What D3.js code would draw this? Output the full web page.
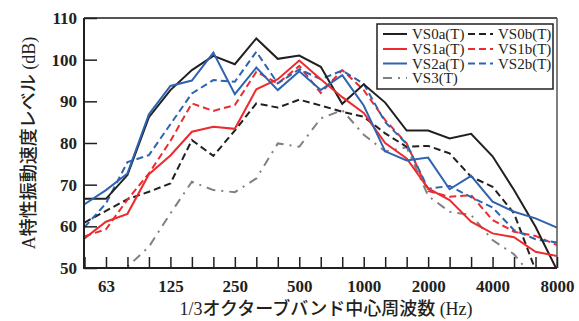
<!DOCTYPE html>
<html><head><meta charset="utf-8">
<script src="https://cdn.jsdelivr.net/npm/d3@7/dist/d3.min.js"></script>
<style>
html,body{margin:0;padding:0;background:#fff;}
svg{display:block;}
</style></head>
<body>
<svg id="chart" width="579" height="321"></svg>
<script>
const bands = [50,63,80,100,125,160,200,250,315,400,500,630,800,1000,1250,1600,2000,2500,3150,4000,5000,6300,8000];
const xTickLabels = [63,125,250,500,1000,2000,4000,8000];
const yTicks = [50,60,70,80,90,100,110];

const VS0a = [66.6,66.6,72.3,86.2,92.7,97.5,100.9,98.9,105.1,100.2,101.0,98.3,89.4,94.1,89.7,83.0,83.0,81.1,82.2,76.8,68.7,59.9,49.5];
const VS0b = [60.9,63.7,66.5,68.3,70.3,80.7,76.9,83.0,89.5,88.5,90.4,89.0,87.5,86.3,82.3,79.1,79.3,77.5,71.9,69.5,63.1,49.5,44];
const VS1a = [57.1,61.1,63.0,72.5,77.0,82.7,83.9,83.4,92.9,95.3,99.8,95.3,91.0,87.2,80.0,76.3,69.1,66.3,61.1,58.3,57.4,53.9,52.9];
const VS1b = [57.6,59.3,66.4,72.7,80.5,89.5,87.7,89.1,97.1,94.3,98.5,92.0,97.5,92.7,85.5,79.9,68.5,67.1,67.5,61.5,58.7,57.7,55.5];
const VS2a = [65.3,68.7,72.7,86.9,93.7,95.0,101.7,91.7,98.1,92.7,97.2,92.7,96.3,89.0,78.0,75.8,76.5,68.9,72.1,65.9,63.5,61.9,59.7];
const VS2b = [59.8,65.5,75.4,77.1,84.5,91.9,95.1,94.7,101.9,94.3,97.7,95.3,97.4,94.2,85.0,79.8,69.0,69.7,67.0,64.5,59.1,56.9,56.1];
const VS3  = [40,45,50.3,55.1,63.1,70.7,68.7,68.2,71.5,79.9,79.1,85.9,87.9,82.0,78.0,79.0,67.3,63.5,62.7,56.7,53.3,47,42];

const seriesNames = ["VS0a(T)","VS0b(T)","VS1a(T)","VS1b(T)","VS2a(T)","VS2b(T)","VS3(T)"];
const seriesData = [VS0a,VS0b,VS1a,VS1b,VS2a,VS2b,VS3];
const seriesColor = ["#231f20","#231f20","#ec2b2e","#ec2b2e","#2e63b0","#2e63b0","#808080"];
const seriesDash = [null,"7,4",null,"7,4",null,"7,4","9,6,2,6"];

const L=84, R=557, T=18, B=268;
const svg = d3.select("#chart");
const x = d3.scalePoint().domain(bands).range([L+0.5,R]);
const y = d3.scaleLinear().domain([50,110]).range([B,T]);

svg.append("defs").append("clipPath").attr("id","clip")
  .append("rect").attr("x",L).attr("y",T).attr("width",R-L).attr("height",B-T);

const numFont = "'Liberation Serif','Noto Sans CJK JP',serif";

// series
const line = d3.line().x((d,i)=>x(bands[i])).y(d=>y(d));
const g = svg.append("g").attr("clip-path","url(#clip)");
const order=[6,1,3,5,0,2,4];
order.forEach(k=>{
  g.append("path").datum(seriesData[k]).attr("d",line)
   .attr("fill","none").attr("stroke",seriesColor[k]).attr("stroke-width",2)
   .attr("stroke-dasharray",seriesDash[k]).attr("stroke-linejoin","miter");
});

// frame
svg.append("line").attr("x1",L).attr("x2",R).attr("y1",T).attr("y2",T).attr("stroke","#555").attr("stroke-width",2);
svg.append("line").attr("x1",R).attr("x2",R).attr("y1",T).attr("y2",B).attr("stroke","#555").attr("stroke-width",1.5);

// x axis with inner ticks
const xAxis = d3.axisBottom(x).tickSizeInner(-11).tickSizeOuter(0)
  .tickFormat(d=>xTickLabels.includes(d)?String(d):"");
const gx = svg.append("g").attr("transform",`translate(0,${B})`).call(xAxis);
gx.select(".domain").attr("stroke","#231f20").attr("stroke-width",2).attr("d",`M${L},0H${R}`);
gx.selectAll(".tick line").attr("stroke","#231f20").attr("stroke-width",1.5);
gx.selectAll(".tick text").attr("y",12).attr("dy","0.71em")
  .style("font-family",numFont).style("font-size","17px").style("font-weight","bold").attr("fill","#231f20");

// y axis with inner ticks
const yAxis = d3.axisLeft(y).tickValues(yTicks).tickSizeInner(-13).tickSizeOuter(0).tickFormat(d3.format("d"));
const gy = svg.append("g").attr("transform",`translate(${L},0)`).call(yAxis);
gy.select(".domain").attr("stroke","#231f20").attr("stroke-width",2).attr("d",`M0,${B+1}V${T}`);
gy.selectAll(".tick line").attr("stroke","#231f20").attr("stroke-width",1.5);
gy.selectAll(".tick text").attr("x",-7)
  .style("font-family",numFont).style("font-size","17px").style("font-weight","bold").attr("fill","#231f20");

// axis titles
svg.append("text").attr("x",326).attr("y",315).attr("text-anchor","middle")
  .style("font-family",numFont).style("font-size","18px").style("font-weight","500").attr("fill","#231f20")
  .text("1/3オクターブバンド中心周波数 (Hz)");
svg.append("text").attr("transform","translate(35,143) rotate(-90)").attr("text-anchor","middle")
  .style("font-family",numFont).style("font-size","18px").style("font-weight","500").attr("fill","#231f20")
  .text("A特性振動速度レベル (dB)");

// legend
const lg = svg.append("g");
lg.append("rect").attr("x",377).attr("y",24).attr("width",176).attr("height",65)
  .attr("fill","#fff").attr("stroke","#231f20").attr("stroke-width",1.5);
const legPos = [[0,0],[1,0],[0,1],[1,1],[0,2],[1,2],[0,3]];
const colX = [[383,407,412],[468,493,498]];
const rowY = [34,49,63.5,78];
seriesNames.forEach((n,k)=>{
  const [c,r]=legPos[k];
  const [x1,x2,tx]=colX[c];
  const yy=rowY[r];
  lg.append("line").attr("x1",x1).attr("x2",x2).attr("y1",yy).attr("y2",yy)
    .attr("stroke",seriesColor[k]).attr("stroke-width",2).attr("stroke-dasharray",seriesDash[k]);
  lg.append("text").attr("x",tx).attr("y",yy).attr("dy","0.35em")
    .style("font-family",numFont).style("font-size","15px").attr("fill","#231f20").text(n);
});
</script>
</body></html>
